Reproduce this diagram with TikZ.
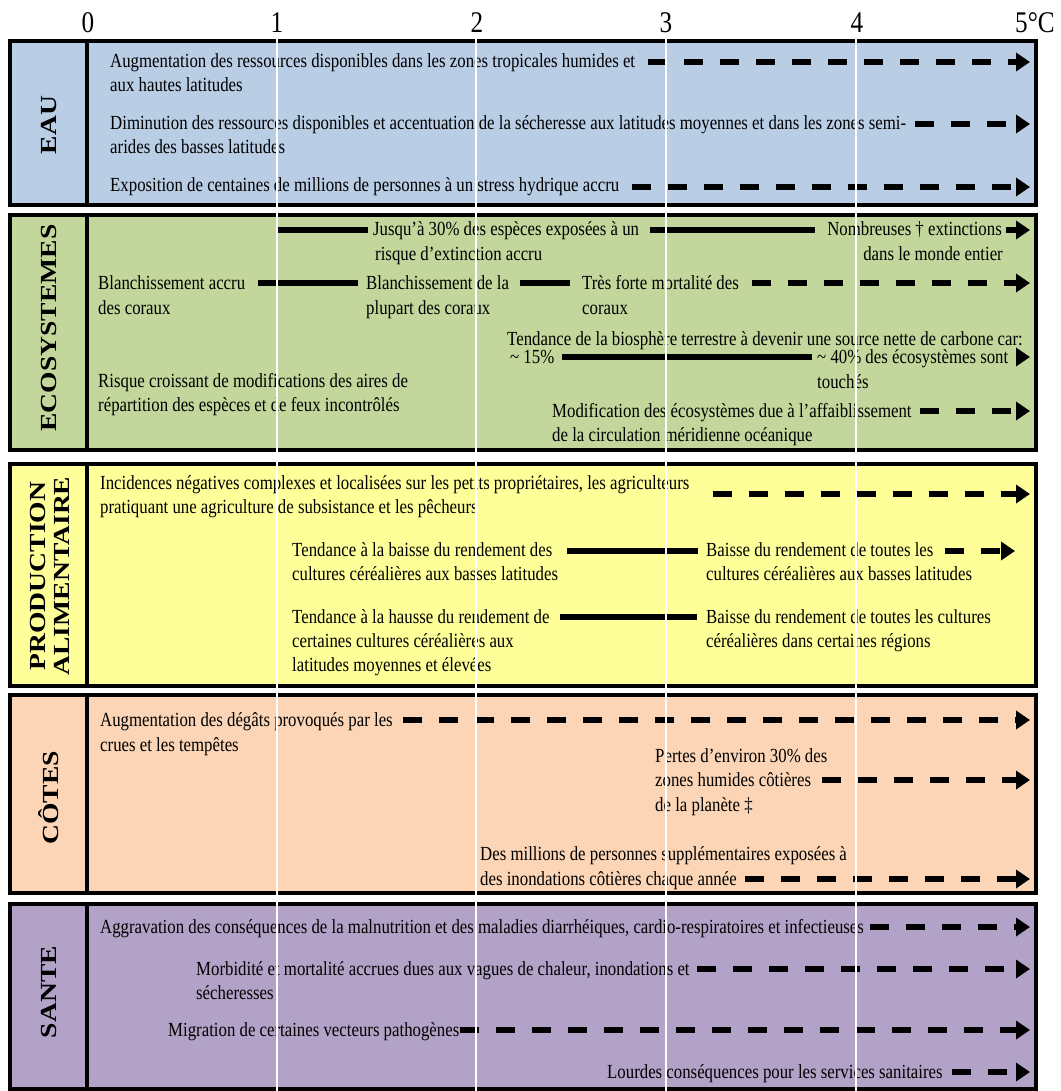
\documentclass[tikz,border=0pt]{standalone}
\usepackage{fontspec}
\setmainfont{Liberation Serif}[FakeStretch=0.84]
\newfontfamily\lblfont{Liberation Serif}[FakeStretch=1.2]
\usetikzlibrary{arrows.meta}
\definecolor{eaucol}{HTML}{B9CDE5}
\definecolor{ecocol}{HTML}{C3D69B}
\definecolor{prodcol}{HTML}{FFFF99}
\definecolor{cotecol}{HTML}{FBD5B5}
\definecolor{santecol}{HTML}{B3A2C7}
\tikzset{
  secbox/.style={draw=black, line width=3.5pt},
  divline/.style={line width=3.5pt},
  lbl/.style={rotate=90, inner sep=0, align=center, font=\lblfont\bfseries\fontsize{23}{24}\selectfont},
  txt/.style={anchor=base west, inner sep=0, font=\fontsize{20}{24}\selectfont},
  txtr/.style={anchor=base east, inner sep=0, font=\fontsize{20}{24}\selectfont},
  axnum/.style={anchor=base, inner sep=0, font=\fontsize{30}{32}\selectfont},
  dasharr/.style={line width=6.5pt, dash pattern=on 19pt off 17pt, -{Triangle[length=14pt,width=18pt]}},
  solidarr/.style={line width=6.5pt, -{Triangle[length=14pt,width=18pt]}},
  solidline/.style={line width=6.5pt},
  gridline/.style={white, line width=1.2pt}
}
\begin{document}
\begin{tikzpicture}[x=1pt,y=-1pt]
\useasboundingbox (0,0) rectangle (1060,1091);
% axis
\node[axnum] (n0) at (88,33) {0};
\node[axnum] (n1) at (277,33) {1};
\node[axnum] (n2) at (477,33) {2};
\node[axnum] (n3) at (666,33) {3};
\node[axnum] (n4) at (857,33) {4};
\node[axnum, anchor=base west] (n5) at (1015,33) {5°C};
% boxes
\draw[secbox, fill=eaucol] (10,41) rectangle (1036,205);
\draw[secbox, fill=ecocol] (10,215) rectangle (1036,450);
\draw[secbox, fill=prodcol] (10,464) rectangle (1036,686);
\draw[secbox, fill=cotecol] (10,695) rectangle (1036,893);
\draw[secbox, fill=santecol] (10,904) rectangle (1036,1089);
\foreach \a/\b in {41/205,215/450,464/686,695/893,904/1089}
  \draw[divline] (87,\a) -- (87,\b);
% labels
\node[lbl] (leau) at (49,125) {EAU};
\node[lbl] (leco) at (49,328) {ECOSYSTEMES};
\node[lbl] (lprod) at (50,576) {PRODUCTION\\ALIMENTAIRE};
\node[lbl] (lcote) at (49,798) {CÔTES};
\node[lbl] (lsante) at (49,992) {SANTE};
% EAU
\node[txt] (a1) at (110,68) {Augmentation des ressources disponibles dans les zones tropicales humides et};
\node[txt] (a1b) at (110,92) {aux hautes latitudes};
\coordinate (a1s) at (648,62); \coordinate (a1e) at (1030,62);
\draw[dasharr] (a1s) -- (a1e);
\node[txt] (a2) at (110,130) {Diminution des ressources disponibles et accentuation de la sécheresse aux latitudes moyennes et dans les zones semi-};
\node[txt] (a2b) at (110,154) {arides des basses latitudes};
\coordinate (a2s) at (915,124); \coordinate (a2e) at (1030,124);
\draw[dasharr] (a2s) -- (a2e);
\node[txt] (a3) at (110,192) {Exposition de centaines de millions de personnes à un stress hydrique accru};
\coordinate (a3s) at (632,187); \coordinate (a3e) at (1030,187);
\draw[dasharr] (a3s) -- (a3e);
% ECOSYSTEMES
\coordinate (e1s) at (278,230); \coordinate (e1m) at (368,230);
\draw[solidline] (e1s) -- (e1m);
\node[txt] (e1) at (373,236) {Jusqu’à 30\% des espèces exposées à un};
\node[txt] (e1b) at (375,260) {risque d’extinction accru};
\coordinate (e1n) at (650,230); \coordinate (e1o) at (815,230);
\draw[solidline] (e1n) -- (e1o);
\node[txtr] (e1c) at (1002,236) {Nombreuses † extinctions};
\node[txtr] (e1d) at (1003,260) {dans le monde entier};
\coordinate (e1p) at (1006,230); \coordinate (e1q) at (1030,230);
\draw[solidarr] (e1p) -- (e1q);
\node[txt] (e2) at (98,289) {Blanchissement accru};
\node[txt] (e2b) at (98,314) {des coraux};
\coordinate (e2s) at (258,283); \coordinate (e2m) at (358,283);
\draw[solidline] (e2s) -- (e2m);
\node[txt] (e2c) at (366,289) {Blanchissement de la};
\node[txt] (e2d) at (366,314) {plupart des coraux};
\coordinate (e2n) at (520,283); \coordinate (e2o) at (570,283);
\draw[solidline] (e2n) -- (e2o);
\node[txt] (e2e) at (582,289) {Très forte mortalité des};
\node[txt] (e2f) at (582,314) {coraux};
\coordinate (e2p) at (752,283); \coordinate (e2q) at (1030,283);
\draw[dasharr] (e2p) -- (e2q);
\node[txt] (e3) at (507,345) {Tendance de la biosphère terrestre à devenir une source nette de carbone car:};
\node[txt] (e3b) at (510,363) {\textasciitilde\ 15\%};
\coordinate (e3s) at (562,357); \coordinate (e3m) at (812,357);
\draw[solidline] (e3s) -- (e3m);
\node[txt] (e3c) at (817,363) {\textasciitilde\ 40\% des écosystèmes sont};
\node[txt] (e3d) at (817,388) {touchés};
\coordinate (e3p) at (1016,357); \coordinate (e3q) at (1030,357);
\draw[solidarr] (e3p) -- (e3q);
\node[txt] (e4) at (98,387) {Risque croissant de modifications des aires de};
\node[txt] (e4b) at (98,411) {répartition des espèces et de feux incontrôlés};
\node[txt] (e5) at (552,417) {Modification des écosystèmes due à l’affaiblissement};
\node[txt] (e5b) at (552,441) {de la circulation méridienne océanique};
\coordinate (e5s) at (920,411); \coordinate (e5e) at (1030,411);
\draw[dasharr] (e5s) -- (e5e);
% PRODUCTION
\node[txt] (p1) at (100,489) {Incidences négatives complexes et localisées sur les petits propriétaires, les agriculteurs};
\node[txt] (p1b) at (100,513) {pratiquant une agriculture de subsistance et les pêcheurs};
\coordinate (p1s) at (713,494); \coordinate (p1e) at (1030,494);
\draw[dasharr] (p1s) -- (p1e);
\node[txt] (p2) at (292,556) {Tendance à la baisse du rendement des};
\node[txt] (p2b) at (292,580) {cultures céréalières aux basses latitudes};
\coordinate (p2s) at (567,551); \coordinate (p2m) at (698,551);
\draw[solidline] (p2s) -- (p2m);
\node[txt] (p2c) at (706,556) {Baisse du rendement de toutes les};
\node[txt] (p2d) at (706,580) {cultures céréalières aux basses latitudes};
\coordinate (p2p) at (945,551); \coordinate (p2q) at (1015,551);
\draw[dasharr] (p2p) -- (p2q);
\node[txt] (p3) at (292,623) {Tendance à la hausse du rendement de};
\node[txt] (p3b) at (292,647) {certaines cultures céréalières aux};
\node[txt] (p3c) at (292,671) {latitudes moyennes et élevées};
\coordinate (p3s) at (560,617); \coordinate (p3m) at (697,617);
\draw[solidline] (p3s) -- (p3m);
\node[txt] (p3d) at (706,623) {Baisse du rendement de toutes les cultures};
\node[txt] (p3e) at (706,647) {céréalières dans certaines régions};
% COTES
\node[txt] (c1) at (100,726) {Augmentation des dégâts provoqués par les};
\node[txt] (c1b) at (100,751) {crues et les tempêtes};
\coordinate (c1s) at (403,720); \coordinate (c1e) at (1030,720);
\draw[dasharr] (c1s) -- (c1e);
\node[txt] (c2) at (655,762) {Pertes d’environ 30\% des};
\node[txt] (c2b) at (655,786) {zones humides côtières};
\node[txt] (c2c) at (655,811) {de la planète ‡};
\coordinate (c2s) at (822,780); \coordinate (c2e) at (1030,780);
\draw[dasharr] (c2s) -- (c2e);
\node[txt] (c3) at (480,860) {Des millions de personnes supplémentaires exposées à};
\node[txt] (c3b) at (480,885) {des inondations côtières chaque année};
\coordinate (c3s) at (745,879); \coordinate (c3e) at (1030,879);
\draw[dasharr] (c3s) -- (c3e);
% SANTE
\node[txt] (s1) at (100,933) {Aggravation des conséquences de la malnutrition et des maladies diarrhéiques, cardio-respiratoires et infectieuses};
\coordinate (s1s) at (870,927); \coordinate (s1e) at (1030,927);
\draw[dasharr] (s1s) -- (s1e);
\node[txt] (s2) at (196,975) {Morbidité et mortalité accrues dues aux vagues de chaleur, inondations et};
\node[txt] (s2b) at (196,999) {sécheresses};
\coordinate (s2s) at (697,969); \coordinate (s2e) at (1030,969);
\draw[dasharr] (s2s) -- (s2e);
\node[txt] (s3) at (168,1036) {Migration de certaines vecteurs pathogènes};
\coordinate (s3s) at (460,1030); \coordinate (s3e) at (1030,1030);
\draw[dasharr] (s3s) -- (s3e);
\node[txt] (s4) at (607,1078) {Lourdes conséquences pour les services sanitaires};
\coordinate (s4s) at (952,1072); \coordinate (s4e) at (1030,1072);
\draw[dasharr] (s4s) -- (s4e);
% grid lines
\foreach \gx in {277,476,666,856}
  \draw[gridline] (\gx,38) -- (\gx,1091);
\end{tikzpicture}
\end{document}
